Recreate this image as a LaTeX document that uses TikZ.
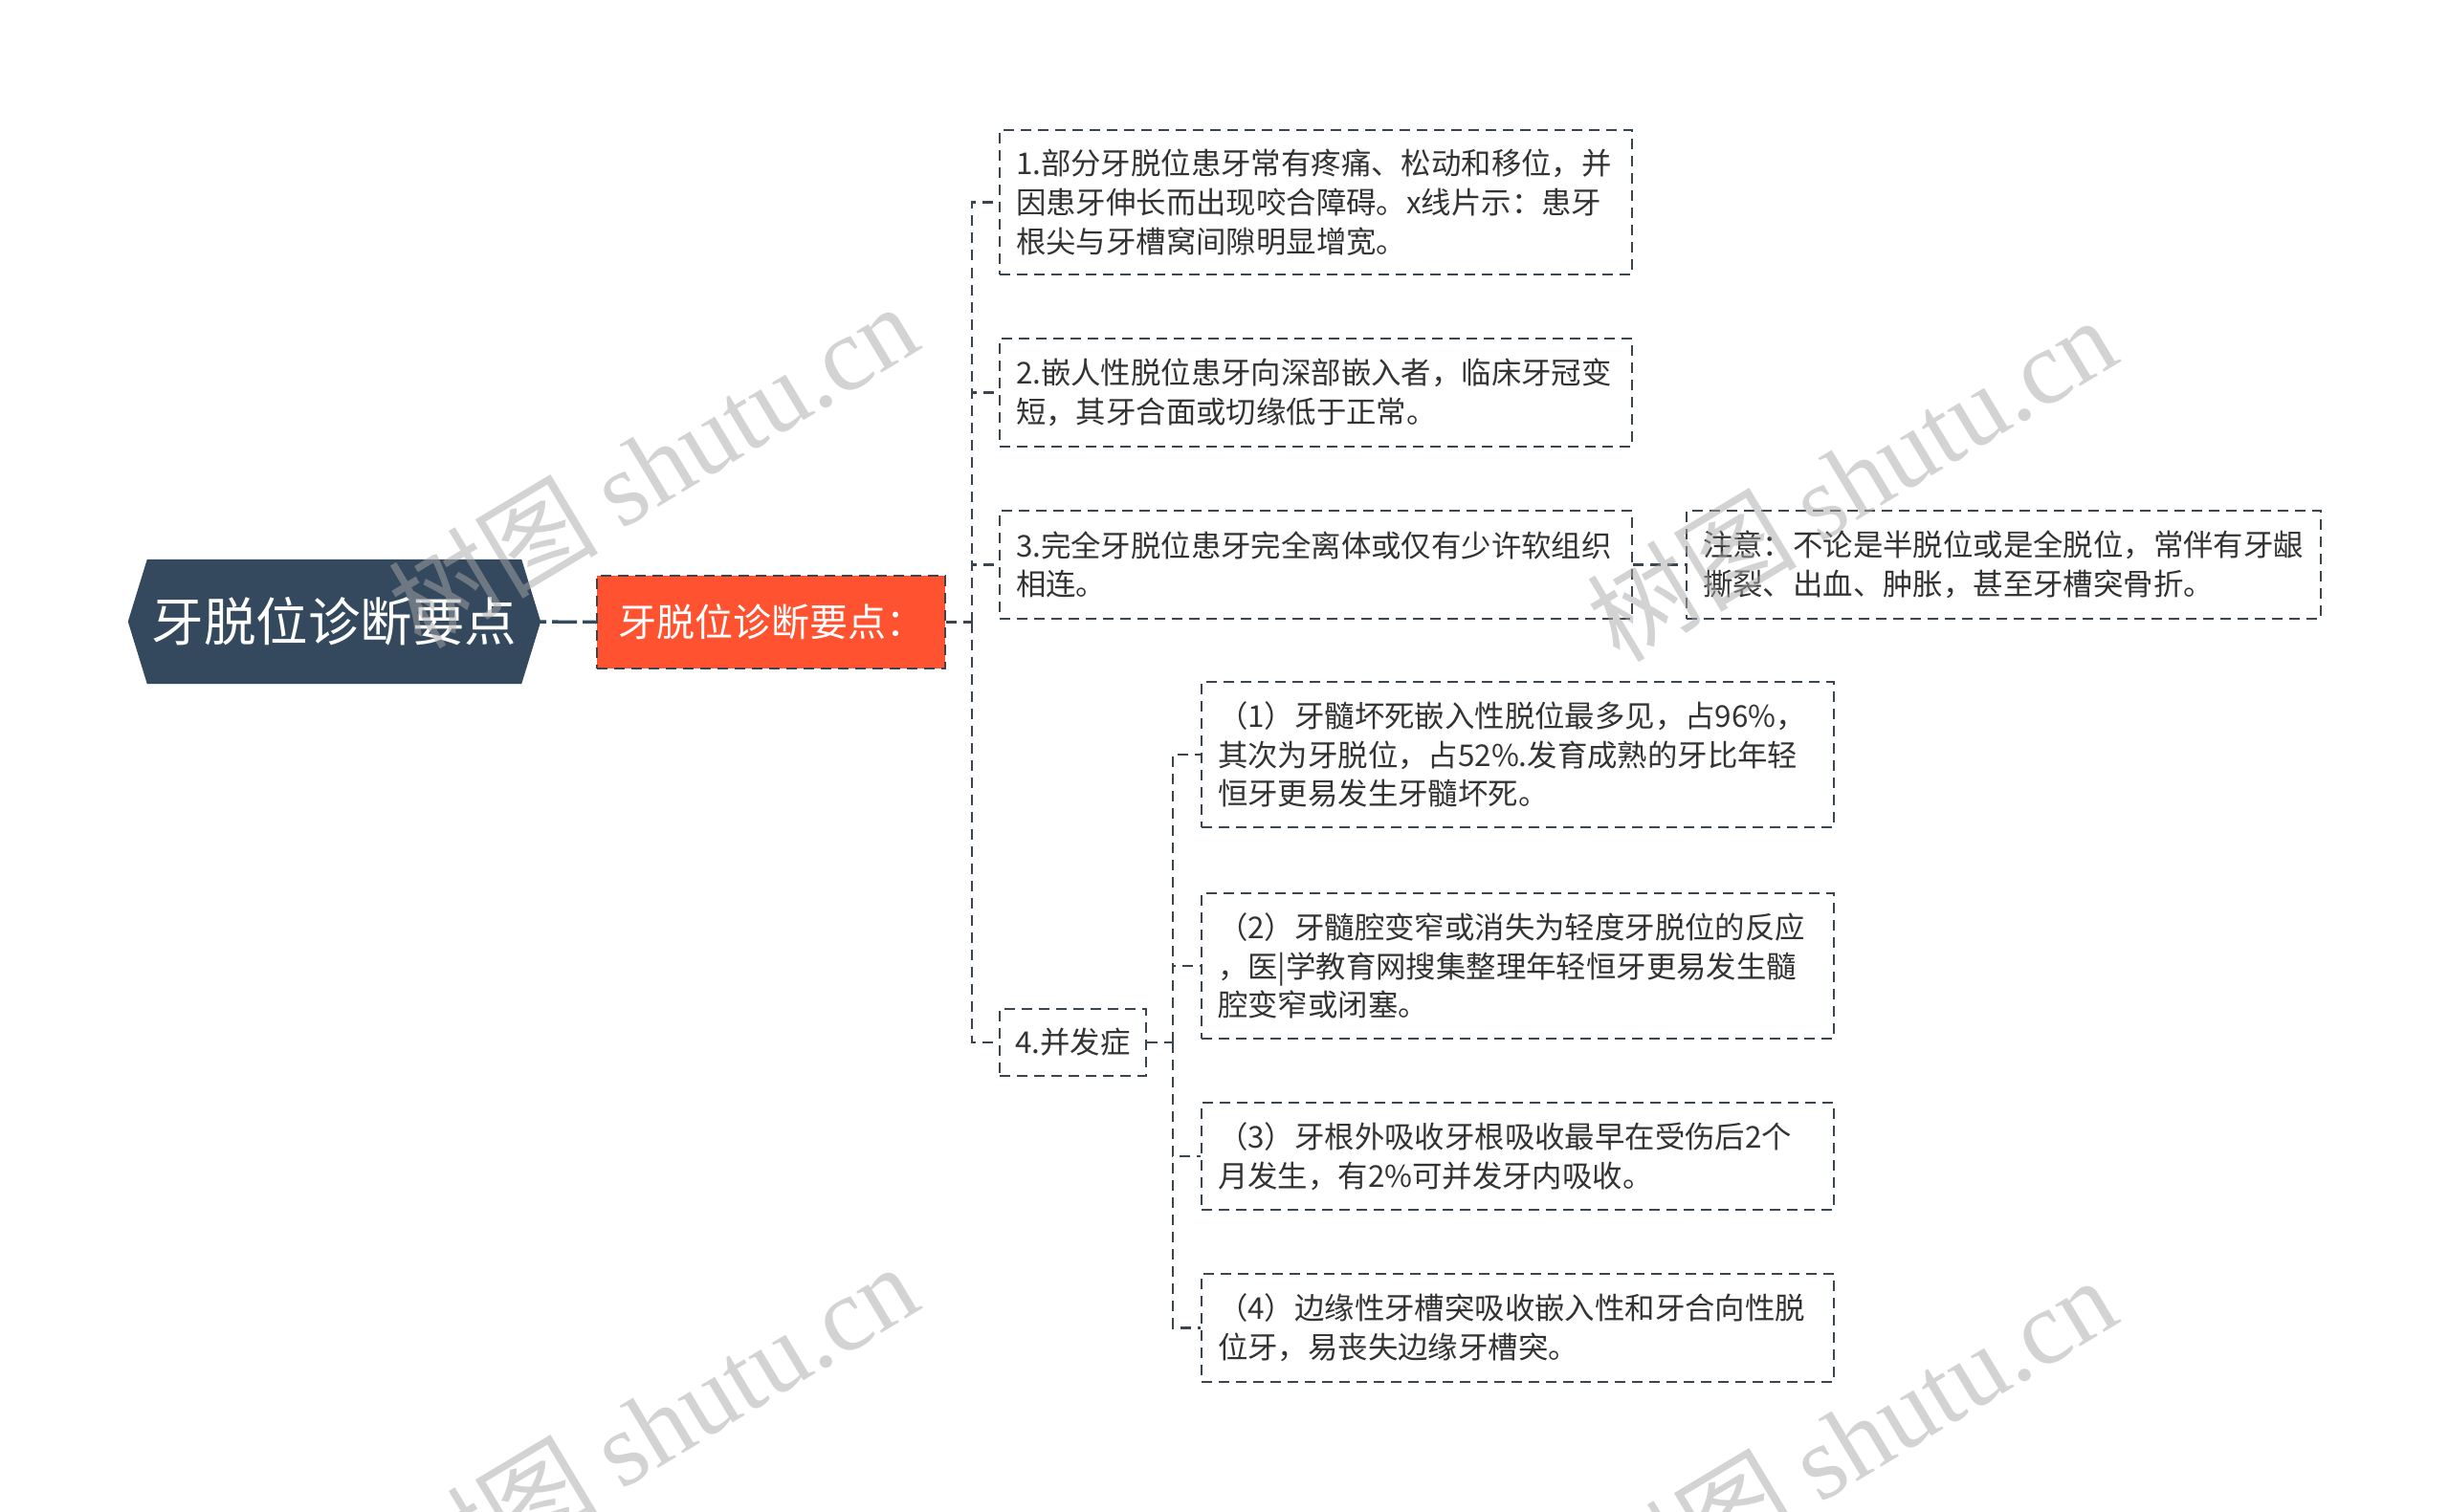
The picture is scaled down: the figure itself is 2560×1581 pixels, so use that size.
\documentclass[tikz,border=0pt]{standalone}
\usepackage{fontspec}
\setmainfont{Noto Sans CJK SC}
\newfontfamily\wmfont{Liberation Serif}
\usetikzlibrary{backgrounds,calc}
\definecolor{rootc}{HTML}{34495E}
\definecolor{subc}{HTML}{FF5230}
\definecolor{linec}{HTML}{3A4550}
\definecolor{txt}{HTML}{333333}
\definecolor{wmc}{HTML}{A8A8A8}
\tikzset{
  dashpat/.style={line width=2.2pt, dash pattern=on 11pt off 7pt},
  leaf/.style={draw=linec, dashpat, rectangle, inner xsep=17pt, inner ysep=0pt,
    align=left, text=txt, font=\fontsize{31.4}{40.8}\selectfont},
  conn/.style={draw=linec, dashpat},
  wm/.style={rotate=31, text=wmc, text opacity=0.5, font=\fontsize{110}{112}\selectfont},
}
\begin{document}
\begin{tikzpicture}[x=1pt,y=-1pt]
\useasboundingbox (0,0) rectangle (2560,1581);
\begin{pgfonlayer}{background}
\fill[white] (0,0) rectangle (2560,1581);
\end{pgfonlayer}

% root
\node[text=white, font=\fontsize{54.5}{60}\selectfont, minimum width=391pt,
  minimum height=130pt, inner sep=0pt] (root) at (349.5,650) {牙脱位诊断要点};
\begin{pgfonlayer}{background}
\fill[rootc] (root.north west) -- (root.north east) -- ($(root.east)+(20,0)$)
  -- (root.south east) -- (root.south west) -- ($(root.west)+(-20,0)$) -- cycle;
\end{pgfonlayer}

% sub
\node[fill=subc, draw=linec, dashpat, text=white, font=\fontsize{40}{45}\selectfont,
  minimum width=364pt, minimum height=97pt, inner sep=0pt] (sub) at (806,650.5) {牙脱位诊断要点：};

% children
\node[leaf, text width=627pt, minimum height=151pt] (c1) at (1375.5,211.5)
 {1.部分牙脱位患牙常有疼痛、松动和移位，并\\因患牙伸长而出现咬合障碍。x线片示：患牙\\根尖与牙槽窝间隙明显增宽。};
\node[leaf, text width=627pt, minimum height=113pt] (c2) at (1375.5,410.5)
 {2.嵌人性脱位患牙向深部嵌入者，临床牙冠变\\短，其牙合面或切缘低于正常。};
\node[leaf, text width=627pt, minimum height=113pt] (c3) at (1375.5,590.5)
 {3.完全牙脱位患牙完全离体或仅有少许软组织\\相连。};
\node[leaf, text width=629pt, minimum height=113pt] (note) at (2094.5,590.5)
 {注意：不论是半脱位或是全脱位，常伴有牙龈\\撕裂、出血、肿胀，甚至牙槽突骨折。};
\node[leaf, align=center, minimum width=153pt, minimum height=70pt, inner xsep=0pt] (c4) at (1121.5,1090)
 {4.并发症};

% grandchildren
\node[leaf, text width=627pt, minimum height=152pt] (g1) at (1586.5,789)
 {（1）牙髓坏死嵌入性脱位最多见，占96\%，\\其次为牙脱位，占52\%.发育成熟的牙比年轻\\恒牙更易发生牙髓坏死。};
\node[leaf, text width=627pt, minimum height=152pt] (g2) at (1586.5,1010)
 {（2）牙髓腔变窄或消失为轻度牙脱位的反应\\，医|学教育网搜集整理年轻恒牙更易发生髓\\腔变窄或闭塞。};
\node[leaf, text width=627pt, minimum height=112pt] (g3) at (1586.5,1209)
 {（3）牙根外吸收牙根吸收最早在受伤后2个\\月发生，有2\%可并发牙内吸收。};
\node[leaf, text width=627pt, minimum height=113pt] (g4) at (1586.5,1388.5)
 {（4）边缘性牙槽突吸收嵌入性和牙合向性脱\\位牙，易丧失边缘牙槽突。};

% connectors
\draw[draw=rootc, line width=3.5pt, dash pattern=on 26pt off 6pt] (root.east) -- (sub.west);
\coordinate (t1) at (1016,650.5);
\coordinate (t2) at (1226,1090);
\draw[conn] (sub.east) -- (t1 |- sub.east);
\draw[conn] (t1 |- sub.east) |- (c1.west);
\draw[conn] (t1 |- sub.east) |- (c2.west);
\draw[conn] (t1 |- sub.east) |- (c3.west);
\draw[conn] (t1 |- sub.east) |- (c4.west);
\draw[conn] (c3.east) -- (note.west);
\draw[conn] (c4.east) -- (t2 |- c4.east);
\draw[conn] (t2 |- c4.east) |- (g1.west);
\draw[conn] (t2 |- c4.east) |- (g2.west);
\draw[conn] (t2 |- c4.east) |- (g3.west);
\draw[conn] (t2 |- c4.east) |- (g4.west);

% watermarks
\node[wm] (wm1) at (682,486) {树图 {\wmfont shutu.cn}};
\node[wm] (wm2) at (1935,500) {树图 {\wmfont shutu.cn}};
\node[wm] (wm3) at (682,1490) {树图 {\wmfont shutu.cn}};
\node[wm] (wm4) at (1935,1504) {树图 {\wmfont shutu.cn}};
\end{tikzpicture}
\end{document}
